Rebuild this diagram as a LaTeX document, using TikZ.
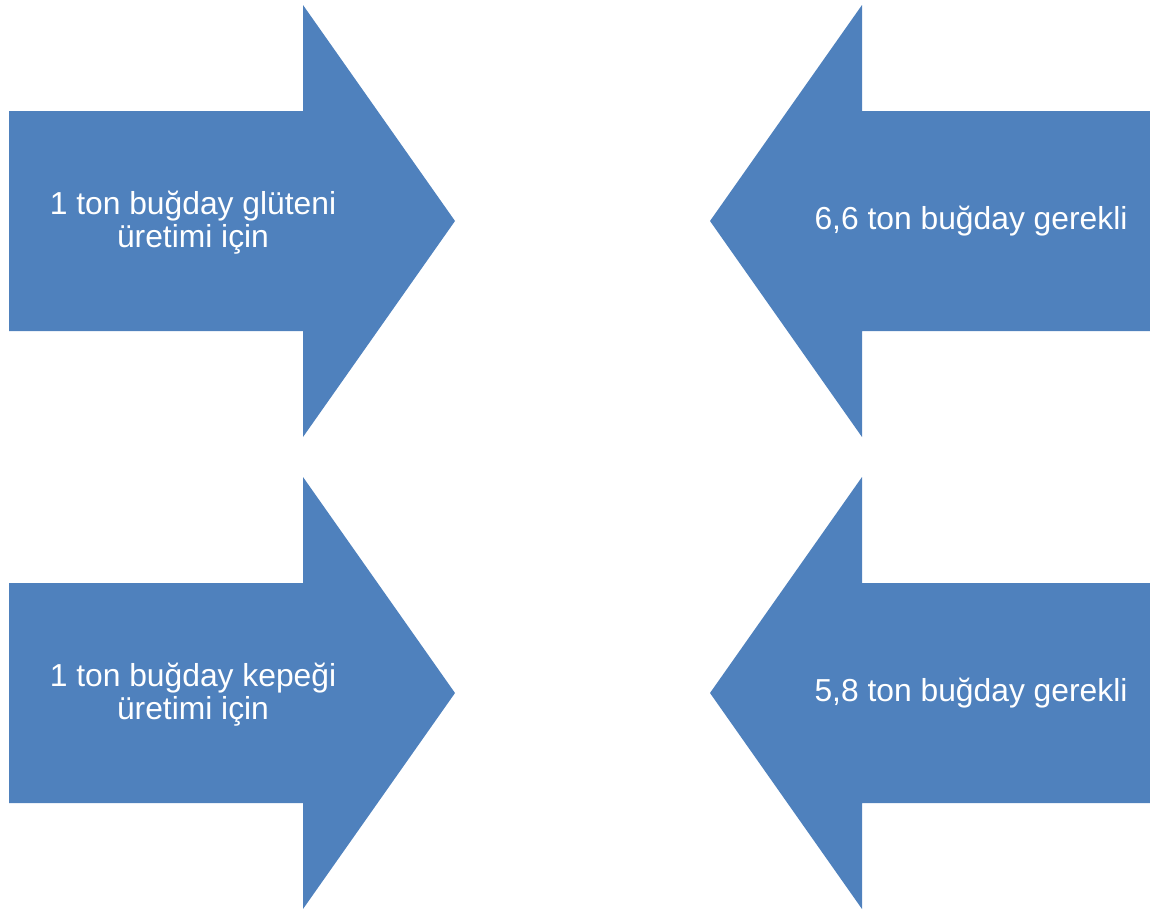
\documentclass[tikz,border=0pt]{standalone}
\usepackage{fontspec}
\setmainfont{Liberation Sans}
\usepackage{tikz}
\usetikzlibrary{positioning}
\definecolor{arrowblue}{RGB}{79,129,189}

\begin{document}
\begin{tikzpicture}[
  x=0.02cm,y=-0.02cm,
  blk/.style={fill=arrowblue,draw=none},
  lbl/.style={text=white,align=center,inner sep=0pt,
              font=\fontsize{18.1}{18.7}\selectfont}
]
\useasboundingbox (0,0) rectangle (1150,913);
% right-pointing arrows (left column), dy = vertical offset
\foreach \dy in {0,472}
  { \fill[blk] (9,111+\dy) -- (303,111+\dy) -- (303,5+\dy) -- (455,221+\dy)
      -- (303,437+\dy) -- (303,331+\dy) -- (9,331+\dy) -- cycle; }
% left-pointing arrows (right column)
\foreach \dy in {0,472}
  { \fill[blk] (1150,111+\dy) -- (862,111+\dy) -- (862,5+\dy) -- (710,221+\dy)
      -- (862,437+\dy) -- (862,331+\dy) -- (1150,331+\dy) -- cycle; }

% labels
\node[lbl] (gluten)  at (193,223) {1 ton buğday glüteni\\üretimi için};
\node[lbl] (need66)  at (971,221) {6,6 ton buğday gerekli};
\node[lbl] (bran)    at (193,695) {1 ton buğday kepeği\\üretimi için};
\node[lbl] (need58)  at (971,693) {5,8 ton buğday gerekli};
\end{tikzpicture}
\end{document}
